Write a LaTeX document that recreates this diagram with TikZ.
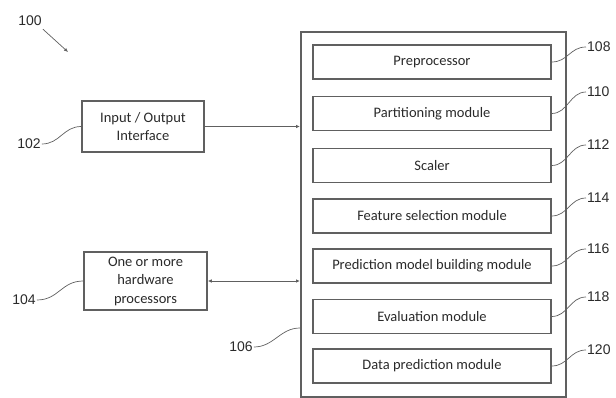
\documentclass[tikz,border=0pt]{standalone}
\usepackage{fontspec}
\setmainfont{Carlito}
\newfontfamily\labelfont{Liberation Sans}
\usetikzlibrary{arrows.meta,calc}
\definecolor{boxgray}{HTML}{606060}
\definecolor{txtgray}{HTML}{2A2A2A}
\tikzset{
  modbox/.style={draw=boxgray, line width=1.5pt, minimum width=238pt, minimum height=34pt,
    inner sep=0pt, font=\fontsize{14.5}{16}\selectfont, text=txtgray},
  sidebox/.style={draw=boxgray, line width=1.5pt, inner sep=0pt, align=center,
    font=\fontsize{14.5}{18.5}\selectfont, text=txtgray},
  reflabel/.style={font=\labelfont\fontsize{14}{16}\selectfont, text=txtgray, inner sep=1pt},
  leader/.style={draw=boxgray, line width=0.7pt},
  conn/.style={draw=boxgray, line width=0.9pt},
  tip/.style={-{Latex[length=4pt,width=3.5pt]}},
}
\begin{document}
\begin{tikzpicture}[x=1pt,y=-1pt]
\useasboundingbox (0,0) rectangle (616,398);
% outer container
\node[draw=boxgray, line width=1.9pt, minimum width=265pt, minimum height=365pt,
  inner sep=0pt, anchor=north west] (outer) at (300,31) {};
% modules
\node[modbox] (m108) at (432,62) {Preprocessor};
\node[modbox] (m110) at (432,113.5) {Partitioning module};
\node[modbox] (m112) at (432,165.5) {Scaler};
\node[modbox] (m114) at (432,216) {Feature selection module};
\node[modbox] (m116) at (432,266) {Prediction model building module};
\node[modbox] (m118) at (432,316.5) {Evaluation module};
\node[modbox] (m120) at (432,366) {Data prediction module};
% right labels
\foreach \n/\y in {108/47,110/92,112/145,114/198,116/249,118/297,120/350}{
  \node[reflabel, anchor=west] (l\n) at (586,\y) {\n};
  \draw[leader] (m\n.east) .. controls +(16,0) and +(-16,0) .. (l\n.west);
}
% side boxes
\node[sidebox, minimum width=122pt, minimum height=51pt] (io) at (143,126.5) {Input / Output\\Interface};
\node[sidebox, minimum width=123pt, minimum height=58pt] (hw) at (145.5,281) {One or more\\hardware\\processors};
% connectors
\draw[conn, tip] (io.east) -- (io.east -| outer.west);
\draw[conn, {Latex[length=4pt,width=3.5pt]}-{Latex[length=4pt,width=3.5pt]}] (hw.east) -- (hw.east -| outer.west);
% left labels
\node[reflabel] (l100) at (30,21) {100};
\coordinate (p100) at (68,52);
\draw[conn, line width=0.7pt, tip] ($(l100.south east)+(0,2)$) -- (p100);
\node[reflabel] (l102) at (29,144) {102};
\draw[leader] (l102.east) .. controls +(18,0) and +(-18,0) .. (io.west);
\node[reflabel] (l104) at (24,300) {104};
\draw[leader] (l104.east) .. controls +(22,0) and +(-22,0) .. (hw.west);
\node[reflabel] (l106) at (241,347) {106};
\coordinate (c106) at (300,328);
\draw[leader] (l106.east) .. controls +(20,0) and +(-20,0) .. (c106);
\end{tikzpicture}
\end{document}
